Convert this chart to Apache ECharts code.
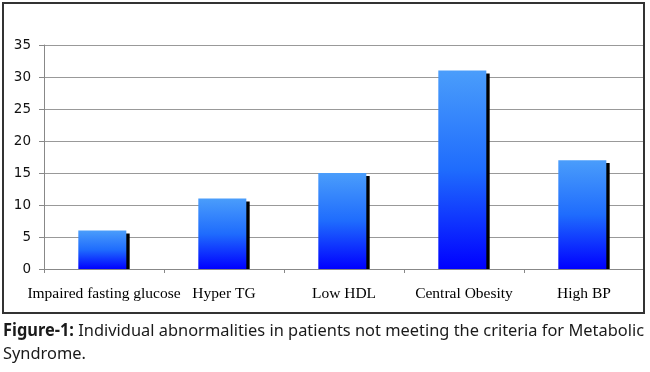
<!DOCTYPE html>
<html><head><meta charset="utf-8">
<script src="https://cdn.jsdelivr.net/npm/echarts@6/dist/echarts.min.js"></script>
<style>html,body{margin:0;padding:0;background:#fff}#c{width:650px;height:372px}</style>
</head><body><div id="c"></div>
<script>
const categories = ['Impaired fasting glucose', 'Hyper TG', 'Low HDL', 'Central Obesity', 'High BP'];
const values = [6, 11, 15, 31, 17];
const yTicks = [0, 5, 10, 15, 20, 25, 30, 35];
const captionBold = 'Figure-1:';
const captionLine1 = ' Individual abnormalities in patients not meeting the criteria for Metabolic';
const captionLine2 = 'Syndrome.';

// measure caption to fit a condensed look
const cv = document.createElement('canvas').getContext('2d');
cv.font = 'bold 17px "Noto Sans"';
const wb = cv.measureText(captionBold).width;
cv.font = '17px "Noto Sans"';
const wr = cv.measureText(captionLine1).width;
const capScale = 641 / (wb + wr);

const chart = echarts.init(document.getElementById('c'), null, {renderer: 'canvas'});
const shadowDrop = 0.45;
chart.setOption({
  animation: false,
  grid: {left: 44, right: 6, top: 45, bottom: 103, containLabel: false},
  xAxis: {
    type: 'category', data: categories,
    axisLine: {lineStyle: {color: '#888', width: 1}},
    axisTick: {show: true, length: 4, lineStyle: {color: '#888'}},
    axisLabel: {color: '#000', fontFamily: 'Liberation Serif', fontSize: 15.5, margin: 17, interval: 0}
  },
  yAxis: {
    type: 'value', min: yTicks[0], max: yTicks[yTicks.length - 1], interval: 5,
    axisLine: {show: true, lineStyle: {color: '#888'}},
    axisTick: {show: true, length: 5, lineStyle: {color: '#888'}},
    splitLine: {lineStyle: {color: '#999', width: 1}},
    axisLabel: {color: '#111', fontFamily: 'DejaVu Sans', fontSize: 13.5, margin: 13}
  },
  series: [
    {
      type: 'bar', data: values, barWidth: 48, barGap: '-93%', z: 3,
      itemStyle: {color: new echarts.graphic.LinearGradient(0, 0, 0, 1, [
        {offset: 0, color: '#4a9dfb'}, {offset: 0.5, color: '#1f6cfd'}, {offset: 1, color: '#0000ff'}
      ])}
    },
    {
      type: 'bar', data: values.map(v => v - shadowDrop), barWidth: 48, z: 2,
      itemStyle: {color: '#000'}
    }
  ],
  graphic: [
    {type: 'rect', shape: {x: 3, y: 3, width: 641, height: 310}, style: {fill: 'none', stroke: '#333', lineWidth: 2}, z: 10},
    {type: 'group', x: 3, y: 320, scaleX: capScale, children: [
      {type: 'text', x: 0, y: 0, style: {
        text: '{b|' + captionBold + '}' + captionLine1 + '\n' + captionLine2,
        fontFamily: 'Noto Sans', fontSize: 17, fill: '#1a1a1a', lineHeight: 23,
        rich: {b: {fontFamily: 'Noto Sans', fontWeight: 'bold', fontSize: 17, fill: '#1a1a1a'}}
      }}
    ]}
  ]
});
</script></body></html>
